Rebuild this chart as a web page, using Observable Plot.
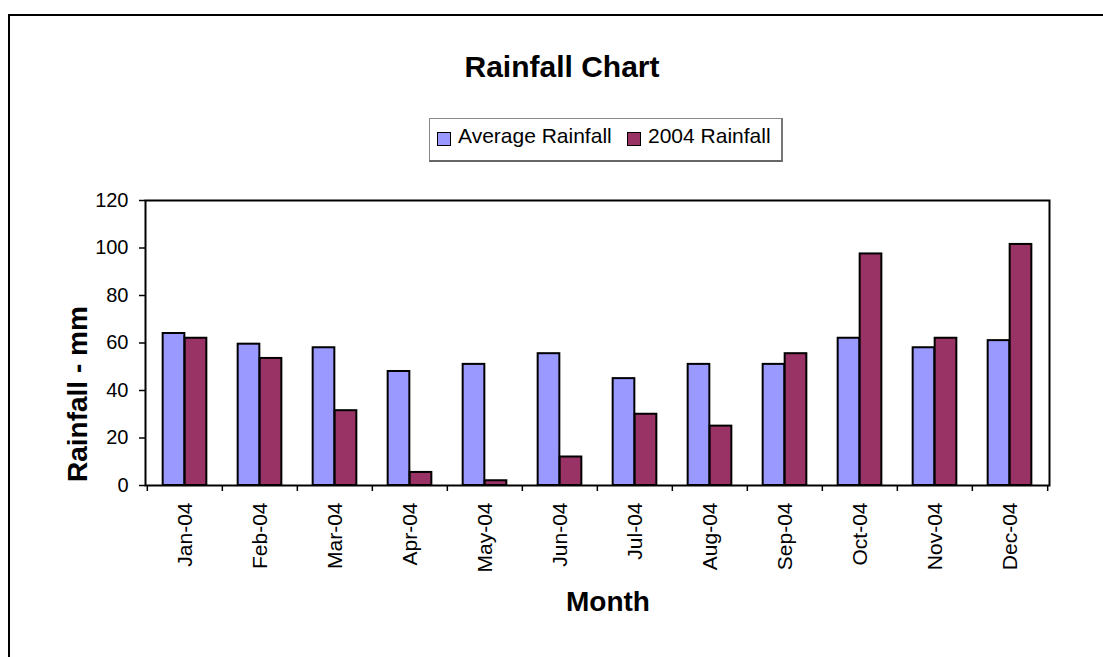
<!DOCTYPE html>
<html>
<head>
<meta charset="utf-8">
<script src="https://cdn.jsdelivr.net/npm/d3@7"></script>
<script src="https://cdn.jsdelivr.net/npm/@observablehq/plot@0.6"></script>
<style>
  html, body { margin: 0; padding: 0; background: #fff; overflow: hidden; }
  #wrap { position: relative; width: 1103px; height: 657px; overflow: hidden; font-family: Arial, "Liberation Sans", sans-serif; color: #000; }
  #wrap svg { position: absolute; left: 0; top: 0; }
  .abs { position: absolute; white-space: nowrap; }
  #outer { position: absolute; left: 8px; top: 14px; width: 1200px; height: 800px; border: 2px solid #000; box-sizing: border-box; }
  #title { left: 562px; top: 52px; transform: translateX(-50%); font-size: 30px; font-weight: bold; line-height: 30px; }
  #legend { position: absolute; left: 429px; top: 118px; width: 354px; height: 44px; box-sizing: border-box; border: 1px solid #888; border-bottom: 2px solid #666; border-right: 2px solid #777; background: #fff; }
  .sw { position: absolute; width: 14px; height: 14px; box-sizing: border-box; border: 1.5px solid #000; }
  .lt { position: absolute; font-size: 21px; line-height: 21px; }
  #ylab { left: 64px; top: 482px; transform-origin: 0 0; transform: rotate(-90deg); font-size: 28px; font-weight: bold; line-height: 28px; }
  #xlab { left: 608px; top: 588px; transform: translateX(-50%); font-size: 28px; font-weight: bold; line-height: 28px; }
</style>
</head>
<body>
<div id="wrap"></div>
<script>
const months = ["Jan-04","Feb-04","Mar-04","Apr-04","May-04","Jun-04","Jul-04","Aug-04","Sep-04","Oct-04","Nov-04","Dec-04"];
const avgRainfall = [64, 59.5, 58, 48, 51, 55.5, 45, 51, 51, 62, 58, 61];
const rainfall2004 = [62, 53.5, 31.5, 5.5, 2, 12, 30, 25, 55.5, 97.5, 62, 101.5];
const yTicks = [0, 20, 40, 60, 80, 100, 120];
const seriesNames = ["Average Rainfall", "2004 Rainfall"];
const seriesColors = ["#9999FF", "#993366"];

const rows = months.map((m, i) => ({month: m, avg: avgRainfall[i], r2004: rainfall2004[i]}));

const W = 1103, H = 657, mL = 145, mR = 54, mT = 200, mB = 172;
const bw = (W - mL - mR) / months.length;
const barW = 22;
const side = (bw - 2 * barW) / 2;

const chart = Plot.plot({
  width: W, height: H,
  marginTop: mT, marginBottom: mB, marginLeft: mL, marginRight: mR,
  style: {fontFamily: 'Arial, "Liberation Sans", sans-serif', fontSize: "20px", background: "transparent", color: "#000", overflow: "visible"},
  x: {domain: months, padding: 0, label: null},
  y: {domain: [0, 120], label: null},
  marks: [
    Plot.barY(rows, {x: "month", y: "avg", fill: seriesColors[0], stroke: "#000", strokeWidth: 2, insetLeft: side, insetRight: side + barW}),
    Plot.barY(rows, {x: "month", y: "r2004", fill: seriesColors[1], stroke: "#000", strokeWidth: 2, insetLeft: side + barW, insetRight: side}),
    Plot.frame({stroke: "#000", strokeWidth: 2}),
    Plot.ruleX(months, {x: d => d, y1: 0, y2: 0, insetBottom: -6, dx: -bw / 2, stroke: "#000", strokeWidth: 1.5}),
    Plot.ruleX(months.slice(-1), {x: d => d, y1: 0, y2: 0, insetBottom: -6, dx: bw / 2, stroke: "#000", strokeWidth: 1.5}),
    Plot.axisY({ticks: yTicks, tickSize: 6, tickPadding: 11, fontSize: 20, stroke: "#000", strokeWidth: 1.5, label: null}),
    Plot.axisX({tickSize: 0, tickRotate: -90, tickPadding: 17, fontSize: 21, label: null})
  ]
});

const wrap = document.getElementById("wrap");
wrap.appendChild(chart);

function add(html) { wrap.insertAdjacentHTML("beforeend", html); }
add('<div id="outer"></div>');
add('<div id="title" class="abs">Rainfall Chart</div>');
add('<div id="legend">' +
    '<div class="sw" style="left:7px;top:13px;background:' + seriesColors[0] + '"></div>' +
    '<div class="lt" style="left:28px;top:6px">' + seriesNames[0] + '</div>' +
    '<div class="sw" style="left:197px;top:13px;background:' + seriesColors[1] + '"></div>' +
    '<div class="lt" style="left:218px;top:6px">' + seriesNames[1] + '</div>' +
    '</div>');
add('<div id="ylab" class="abs">Rainfall - mm</div>');
add('<div id="xlab" class="abs">Month</div>');
</script>
</body>
</html>
